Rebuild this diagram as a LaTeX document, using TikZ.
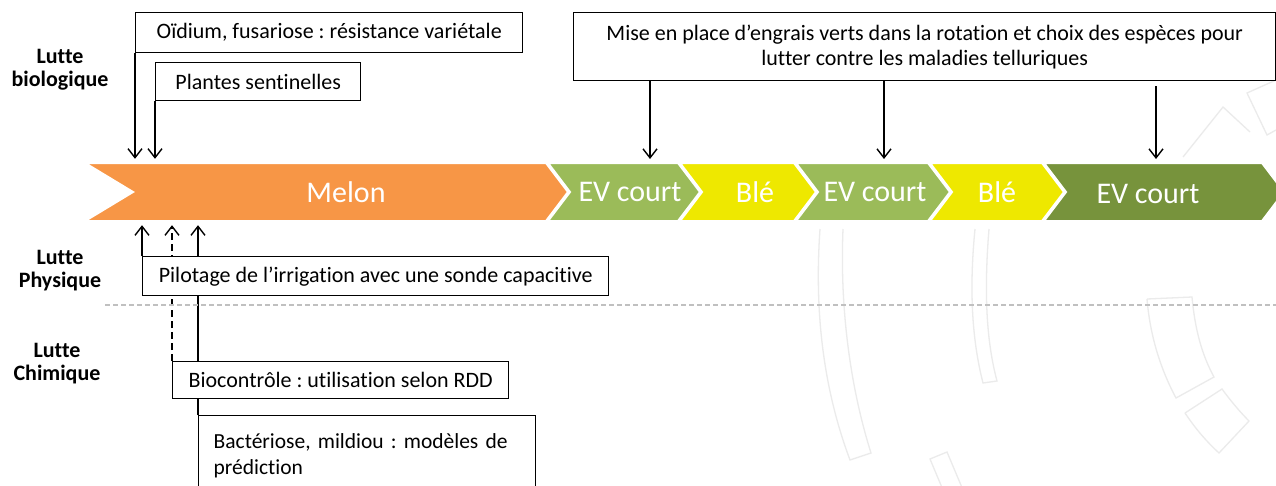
\documentclass[tikz,border=0pt]{standalone}
\usepackage{fontspec}
\setmainfont{Carlito}[Ligatures=NoCommon]
\usetikzlibrary{arrows.meta}
\pgfdeclarelayer{bg}
\pgfsetlayers{bg,main}
\definecolor{melonc}{HTML}{F79646}
\definecolor{evc}{HTML}{9BBB59}
\definecolor{blec}{HTML}{EEE800}
\definecolor{evd}{HTML}{77933C}
\definecolor{deco}{HTML}{EBEBEB}
\definecolor{sepc}{HTML}{C0C0C0}
\frenchspacing
\newcommand\mychev[4]{%
  \fill[#4, draw=white, line width=2pt] (#1,163) -- (#2,163) -- ({#2+22},192) -- (#2,221) -- (#1,221) -- ({#1+#3},192) -- cycle;}
\begin{document}
\begin{tikzpicture}[x=1pt,y=-1pt,
  box/.style={draw=black,line width=1.4pt,fill=white,font=\fontsize{22}{25}\selectfont,inner sep=0pt,anchor=north west},
  arr/.style={line width=1.4pt,-{Straight Barb[length=9pt,width=14pt,line width=1.4pt]},shorten >=4pt},
  lab/.style={font=\fontsize{22}{23}\selectfont\bfseries,align=center,inner sep=0pt},
  chtxt/.style={text=white,font=\fontsize{30}{30}\selectfont,minimum height=58pt,inner sep=0pt},
  decoline/.style={draw=deco,line width=1.3pt}
]
\useasboundingbox (0,0) rectangle (1276,485);
\path[clip] (0,0) rectangle (1276,485);
\begin{pgfonlayer}{bg}
\fill[white] (0,0) rectangle (1276,485);
\end{pgfonlayer}

% faint background decoration
\draw[decoline] (820,229) .. controls (815,300) and (820,380) .. (850,460) -- (871,453) .. controls (848,380) and (840,300) .. (843,229);
\draw[decoline] (975,229) .. controls (969,290) and (972,340) .. (983,383) -- (997,381) .. controls (986,340) and (984,290) .. (989,229);
\draw[decoline] (1147,299) -- (1192,297) .. controls (1195,330) and (1202,355) .. (1214,377) -- (1176,398) .. controls (1160,368) and (1150,335) .. (1147,299);
\draw[decoline] (1185,413) -- (1222,389) .. controls (1230,400) and (1240,412) .. (1249,421) -- (1219,453) .. controls (1205,440) and (1195,428) .. (1185,413);
\draw[decoline] (943,490) -- (930,459) -- (947,452) -- (963,490);
\draw[decoline] (1183,157) -- (1223,107) -- (1250,132);
\draw[decoline] (1276,80) -- (1247,93) -- (1267,135) -- (1276,130);

% chevrons
\mychev{85}{546}{48}{melonc}
\mychev{548}{678}{22}{evc}
\mychev{680}{794}{22}{blec}
\mychev{796}{928}{22}{evc}
\mychev{930}{1042}{22}{blec}
\mychev{1044}{1262}{22}{evd}
\node[chtxt] (melon) at (346,192) {Melon};
\node[chtxt] (ev1) at (630,192) {EV court};
\node[chtxt] (ble1) at (755,192) {Blé};
\node[chtxt] (ev2) at (875,192) {EV court};
\node[chtxt] (ble2) at (997,192) {Blé};
\node[chtxt] (ev3) at (1148,194) {EV court};

% separator
\draw[sepc,line width=1.3pt,dash pattern=on 5pt off 3pt] (105,305) -- (1276,305);

% labels
\node[lab] (lbio) at (60,70) {Lutte\\biologique};
\node[lab] (lphy) at (60,271) {Lutte\\Physique};
\node[lab] (lchi) at (57,364) {Lutte\\Chimique};

% boxes
\node[box,minimum width=387pt,minimum height=40pt] (oid) at (135,12) {Oïdium, fusariose : résistance variétale};
\node[box,minimum width=205pt,minimum height=38pt] (pla) at (155,62) {Plantes sentinelles};
\node[box,minimum width=702pt,minimum height=68pt,align=center] (mise) at (573,12) {Mise en place d’engrais verts dans la rotation et choix des espèces pour\\lutter contre les maladies telluriques};
\node[box,minimum width=466pt,minimum height=39pt] (pil) at (142,256) {Pilotage de l’irrigation avec une sonde capacitive};
\node[box,minimum width=336pt,minimum height=37pt] (bio) at (172,361) {Biocontrôle : utilisation selon RDD};
\node[box,text width=307pt,inner xsep=15pt,minimum height=80pt,align=left,font=\fontsize{21.5}{26}\selectfont] (bac) at (198,415) {Bactériose, mildiou : modèles de\\prédiction};

% targets on the chevron row
\coordinate (m1) at (650,163);
\coordinate (m2) at (884,163);
\coordinate (m3) at (1156,163);

% connectors
\draw[arr] (oid.south west) -- (oid.south west |- melon.north);
\draw[arr] (pla.south west) -- (pla.south west |- melon.north);
\draw[arr] (mise.south -| m1) -- (m1);
\draw[arr] (mise.south -| m2) -- (m2);
\draw[arr] ([yshift=-5pt]mise.south -| m3) -- (m3);
\draw[arr] (pil.north west) -- (pil.north west |- melon.south);
\begin{pgfonlayer}{bg}
\draw[arr,dash pattern=on 7pt off 4pt] (bio.north west) -- (bio.north west |- melon.south);
\draw[arr] (bac.north west) -- (bac.north west |- melon.south);
\end{pgfonlayer}
\end{tikzpicture}
\end{document}
